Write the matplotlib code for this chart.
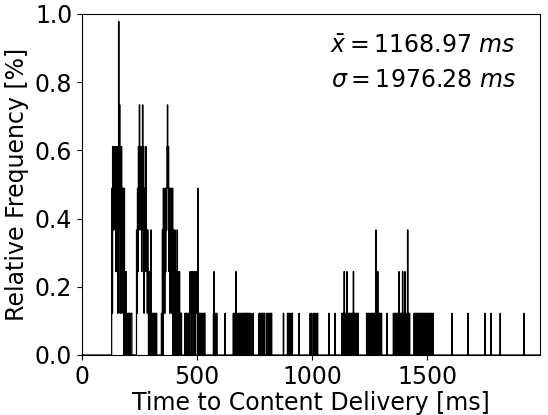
import numpy as np
import matplotlib.pyplot as plt

# response times (ms, 2 ms bins) and how often each one occurred
times_ms = [
    130, 132, 134, 136, 138, 140, 142, 144, 146, 148, 150, 152, 154, 156, 158,
    160, 162, 164, 166, 168, 170, 172, 174, 176, 178, 180, 184, 186, 188, 192,
    194, 198, 202, 204, 208, 212, 214, 216,
    238, 240, 242, 244, 246, 248, 250, 252, 254, 256, 258, 260, 262, 264, 266,
    268, 270, 272, 274, 276, 278, 280, 282, 284, 286, 288, 292, 296, 300, 304,
    306, 310, 312, 316, 318, 322, 324,
    346, 350, 354, 356, 358, 360, 362, 364, 366, 368, 370, 372, 374, 376, 378,
    380, 382, 384, 386, 388, 390, 392, 394, 398, 400, 404, 406, 410, 412, 414,
    418, 422, 424, 428, 430, 432,
    448, 452, 456, 458, 462, 466, 470, 472, 474, 478, 480, 482, 486, 488, 490,
    494, 496, 498, 500, 504, 506, 510, 512, 516, 518, 522, 526, 528, 532, 534,
    572, 574, 578, 582, 586, 622,
    658, 662, 666, 670, 674, 680, 684, 688, 694, 698, 702, 706, 710, 714, 718,
    722, 726, 730, 734, 744, 770, 774, 778, 782, 786, 790, 794, 804, 810, 816,
    820, 824, 876, 894, 898, 904, 910, 914, 944, 992, 998, 1006, 1012, 1018,
    1024, 1074, 1100,
    1130, 1134, 1138, 1140, 1144, 1148, 1152, 1156, 1160, 1164, 1168, 1172,
    1176, 1180, 1184, 1188, 1192, 1196, 1200,
    1238, 1242, 1246, 1250, 1256, 1260, 1264, 1268, 1272, 1278, 1282, 1286,
    1290, 1294, 1298, 1302, 1326,
    1354, 1358, 1362, 1366, 1370, 1374, 1378, 1382, 1386, 1390, 1394, 1398,
    1404, 1408, 1412, 1416, 1420, 1424,
    1444, 1448, 1452, 1456, 1460, 1466, 1470, 1474, 1478, 1484, 1488, 1492,
    1498, 1502, 1508, 1512, 1516, 1520, 1526,
    1608, 1678, 1752, 1778, 1818, 1922,
]
counts = [
    4, 1, 5, 3, 5, 3, 5, 4, 5, 2, 5, 3, 5, 1, 5,
    8, 3, 6, 1, 5, 2, 5, 1, 4, 2, 4, 4, 1, 2, 2,
    1, 1, 1, 1, 1, 1, 1, 1,
    3, 1, 4, 2, 5, 3, 6, 4, 5, 3, 5, 2, 4, 6, 3,
    5, 1, 4, 2, 3, 5, 2, 3, 1, 3, 1, 2, 2, 3, 1,
    1, 1, 1, 1, 1, 1, 1,
    1, 3, 4, 1, 3, 1, 4, 2, 4, 3, 5, 6, 4, 5, 2,
    4, 1, 4, 2, 4, 1, 3, 4, 3, 1, 3, 2, 2, 1, 3,
    2, 1, 2, 1, 1, 1,
    1, 1, 1, 1, 1, 1, 2, 1, 2, 2, 1, 2, 2, 1, 2,
    2, 1, 2, 1, 4, 1, 1, 1, 1, 1, 1, 1, 1, 1, 1,
    1, 2, 1, 1, 1, 1,
    1, 1, 1, 2, 1, 1, 1, 1, 1, 1, 1, 1, 1, 1, 1,
    1, 1, 1, 1, 1, 1, 1, 1, 1, 1, 1, 1, 1, 1, 1,
    1, 1, 1, 1, 1, 1, 1, 1, 1, 1, 1, 1, 1, 1,
    1, 1, 1,
    1, 1, 1, 2, 1, 1, 2, 1, 1, 1, 1, 1,
    1, 2, 1, 1, 1, 1, 1,
    1, 1, 1, 1, 1, 1, 1, 1, 1, 3, 1, 2,
    1, 1, 1, 1, 1,
    1, 1, 1, 1, 1, 1, 2, 1, 1, 1, 2, 1,
    2, 1, 1, 3, 1, 1,
    1, 1, 1, 1, 1, 1, 1, 1, 1, 1, 1, 1,
    1, 1, 1, 1, 1, 1, 1,
    1, 1, 1, 1, 1, 1,
]
n_samples = 818
mean_ms = 1168.97
std_ms = 1976.28

rel_freq = np.array(counts) / n_samples * 100

plt.rcParams['font.size'] = 17
fig = plt.figure(figsize=(5.48, 4.15), dpi=100)
ax = fig.add_axes([0.1496, 0.1446, 0.8358, 0.8217])

ax.hist(times_ms, bins=np.arange(-1, 2001, 2), weights=rel_freq,
        histtype='step', color='black', linewidth=0.9)

ax.set_xlim(0, 1991)
ax.set_ylim(0, 1.0)
ax.set_xticks([0, 500, 1000, 1500])
ax.set_yticks(np.arange(0, 1.01, 0.2))
ax.set_xlabel('Time to Content Delivery [ms]', labelpad=2)
ax.set_ylabel('Relative Frequency [%]')

ax.text(0.948, 0.906, r'$\bar{x} = %.2f\ ms$' % mean_ms, transform=ax.transAxes,
        ha='right', va='center')
ax.text(0.948, 0.806, r'$\sigma = %.2f\ ms$' % std_ms, transform=ax.transAxes,
        ha='right', va='center')

fig.savefig('out.png', dpi=100)
